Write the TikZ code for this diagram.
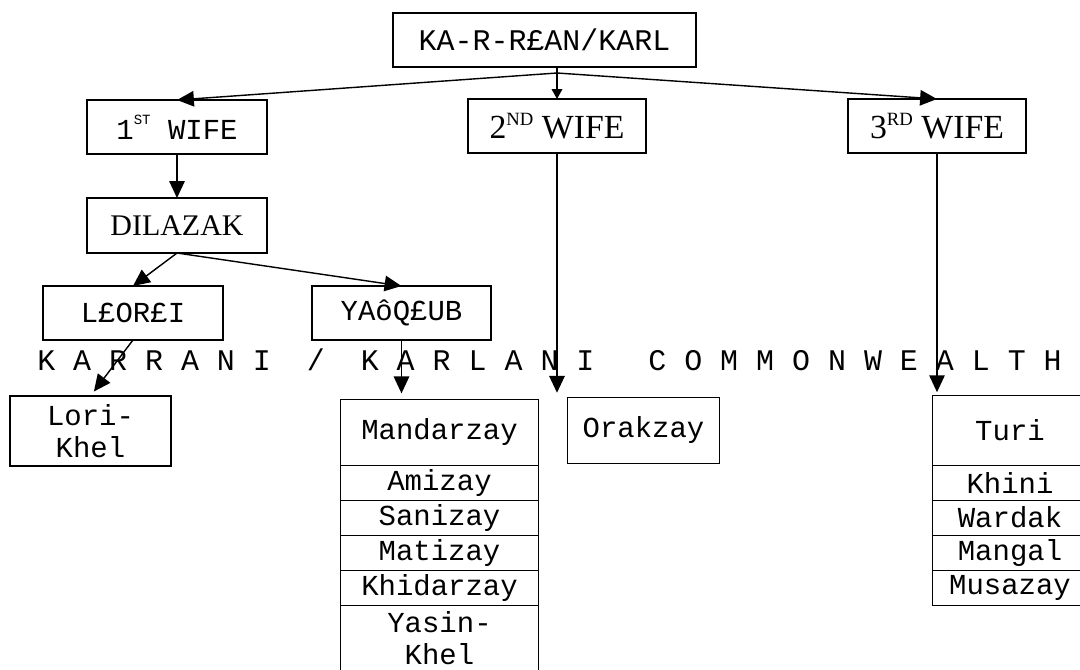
\documentclass[tikz,border=0pt]{standalone}
\usepackage{fontspec}
\setmainfont{Liberation Serif}
\setmonofont{Liberation Mono}
\usetikzlibrary{positioning, arrows.meta}
\newcommand{\supx}[3]{\raisebox{#1}{\fontsize{#2}{#2}\selectfont #3}}

\begin{document}
\begin{tikzpicture}[x=0.025cm, y=-0.025cm,
        box/.style={draw, line width=1pt, inner sep=0pt, outer sep=0pt, align=center, font=\fontsize{20.6}{23}\ttfamily},
        cell/.style={box, line width=0.7pt, minimum height=0.875cm},
        mandcell/.style={cell, minimum width=4.925cm},
        turicell/.style={cell, minimum width=3.85cm},
        arr/.style={line width=1pt, -{Triangle[length=12pt, width=11pt]}},
        arrs/.style={line width=1pt, -{Triangle[length=7pt, width=7.5pt]}}]
        \useasboundingbox (0,0) rectangle (1080,670);

        % Ancestor
        \node[box, minimum width=7.575cm, minimum height=1.35cm, font=\fontsize{21.3}{26}\ttfamily] (karl) at (544.5,40) {KA-R-R£AN/KARL};
        \coordinate (fork) at (557,73);

        % Wives
        \node[box, minimum width=4.5cm, minimum height=1.35cm] (wifeA) at (177,127) {1\supx{10.5pt}{10pt}{ST} WIFE};
        \node[box, minimum width=4.45cm, minimum height=1.35cm, font=\fontsize{24}{28}\rmfamily] (wifeB) at (557,126) {2\supx{9pt}{13.3pt}{ND} WIFE};
        \node[box, minimum width=4.45cm, minimum height=1.35cm, font=\fontsize{24}{28}\rmfamily] (wifeC) at (937,126) {3\supx{9pt}{13.3pt}{RD} WIFE};
        \draw[arrs] (karl.south -| wifeB) -- (wifeB.north);
        \draw[arr] (fork) -- (wifeA.north);
        \draw[arr] (fork) -- (wifeC.north);

        % Dilazak and his sons
        \node[box, minimum width=4.5cm, minimum height=1.375cm, font=\fontsize{21.3}{26}\rmfamily] (dila) at (177,225.5) {DILAZAK};
        \node[box, minimum width=4.5cm, minimum height=1.35cm] (lora) at (133,313) {L£OR£I};
        \node[box, minimum width=4.475cm, minimum height=1.35cm] (yaqub) at (401.5,313) {YAôQ£UB};
        \draw[arr] (wifeA.south) -- (dila.north);
        \draw[arr] (dila.south) -- (lora.north);
        \draw[arr] (dila.south) -- (yaqub.north);

        % Commonwealth line
        \node[anchor=base west, inner sep=0pt, font=\fontsize{21.3}{26}\ttfamily] (wealth) at (37,370) {K A R R A N I~~/~~K A R L A N I~~~C O M M O N W E A L T H};

        % Lori-Khel
        \node[box, minimum width=4.025cm, minimum height=1.75cm] (lori) at (90.5,431) {Lori-\\Khel};
        \draw[arr, shorten >=4pt] (lora.south) -- (lori.north);

        % Mandarzay column
        \node[box, line width=0.7pt, minimum width=4.925cm, minimum height=1.65cm] (mand) at (439.5,432) {Mandarzay};
        \node[mandcell, below=0pt of mand] (amiz) {Amizay};
        \node[mandcell, below=0pt of amiz] (saniz) {Sanizay};
        \node[mandcell, below=0pt of saniz] (matiz) {Matizay};
        \node[mandcell, below=0pt of matiz] (khidz) {Khidarzay};
        \node[mandcell, minimum height=1.65cm, below=0pt of khidz, font=\fontsize{20.6}{23}\ttfamily] (yasin) {Yasin-\\Khel};
        \draw[arr, shorten >=4pt] (yaqub.south) -- (yaqub.south |- mand.north);

        % Orakzay
        \node[box, line width=0.7pt, minimum width=3.775cm, minimum height=1.65cm] (oraz) at (643.5,430) {Orakzay};
        \draw[arr, shorten >=3pt] (wifeB.south) -- (wifeB.south |- oraz.north);

        % Turi column
        \node[box, line width=0.7pt, minimum width=3.85cm, minimum height=1.75cm] (turi) at (1010,430) {Turi};
        \node[turicell, below=0pt of turi] (khini) {Khini};
        \node[turicell, below=0pt of khini] (ward) {Wardak};
        \node[turicell, below=0pt of ward] (mang) {Mangal};
        \node[turicell, below=0pt of mang] (musa) {Musazay};
        \draw[arr, shorten >=2pt] (wifeC.south) -- (wifeC.south |- turi.north);
\end{tikzpicture}
\end{document}
